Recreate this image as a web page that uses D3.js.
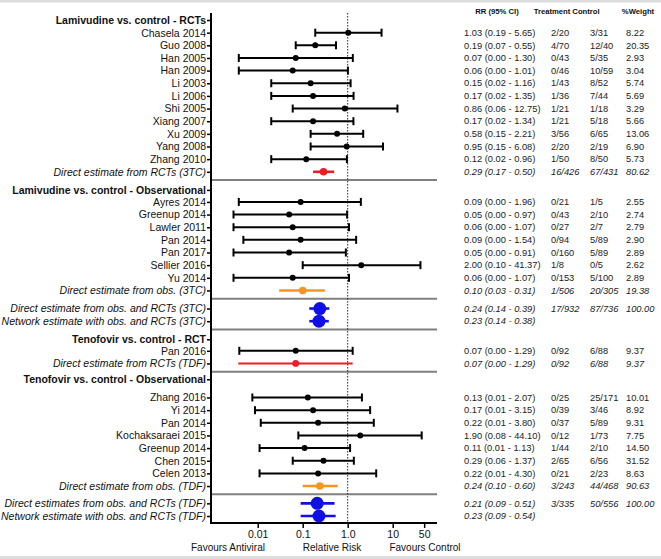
<!DOCTYPE html>
<html><head><meta charset="utf-8">
<script src="https://cdn.jsdelivr.net/npm/d3@7"></script>
<style>
html,body{margin:0;padding:0;background:#fff;}
svg{display:block;font-family:"Liberation Sans",Arial,sans-serif;}
</style></head>
<body><svg id="c" width="661" height="559"></svg>
<script>
// ---------- DATA ----------
const groupTitles = ["Lamivudine vs. control - RCTs","Lamivudine vs. control - Observational",null,"Tenofovir vs. control - RCT","Tenofovir vs. control - Observational",null];
const studyNames = [
 ["Chasela 2014","Guo 2008","Han 2005","Han 2009","Li 2003","Li 2006","Shi 2005","Xiang 2007","Xu 2009","Yang 2008","Zhang 2010","Direct estimate from RCTs (3TC)"],
 ["Ayres 2014","Greenup 2014","Lawler 2011","Pan 2014","Pan 2017","Sellier 2016","Yu 2014","Direct estimate from obs. (3TC)"],
 ["Direct estimate from obs. and RCTs (3TC)","Network estimate with obs. and RCTs (3TC)"],
 ["Pan 2016","Direct estimate from RCTs (TDF)"],
 ["Zhang 2016","Yi 2014","Pan 2014","Kochaksaraei 2015","Greenup 2014","Chen 2015","Celen 2013","Direct estimate from obs. (TDF)"],
 ["Direct estimates from obs. and RCTs (TDF)","Network estimate with obs. and RCTs (TDF)"]
];
// estimate type: s = study, r = pooled RCT, o = pooled observational, n = combined / network
const rowType = [
 ["s","s","s","s","s","s","s","s","s","s","s","r"],
 ["s","s","s","s","s","s","s","o"],
 ["n","n"],
 ["s","r"],
 ["s","s","s","s","s","s","s","o"],
 ["n","n"]
];
const rr = [
 [1.03,0.19,0.07,0.06,0.15,0.17,0.86,0.17,0.58,0.95,0.12,0.29],
 [0.09,0.05,0.06,0.09,0.05,2.00,0.06,0.10],
 [0.24,0.23],
 [0.07,0.07],
 [0.13,0.17,0.22,1.90,0.11,0.29,0.22,0.24],
 [0.21,0.23]
];
const ciLow = [
 [0.19,0.07,0.0038,0.0038,0.02,0.02,0.06,0.02,0.15,0.15,0.02,0.17],
 [0.0038,0.0029,0.0029,0.0048,0.0029,0.10,0.0029,0.03],
 [0.14,0.14],
 [0.0039,0.0037],
 [0.0076,0.0087,0.0117,0.08,0.011,0.06,0.011,0.10],
 [0.09,0.09]
];
const ciHigh = [
 [5.65,0.55,1.30,1.01,1.16,1.35,12.75,1.34,2.21,6.08,0.96,0.50],
 [1.96,0.97,1.07,1.54,0.91,41.37,1.07,0.31],
 [0.39,0.38],
 [1.29,1.29],
 [2.07,3.15,3.80,44.10,1.13,1.37,4.30,0.60],
 [0.51,0.54]
];
const treatment = [
 ["2/20","4/70","0/43","0/46","1/43","1/36","1/21","1/21","3/56","2/20","1/50","16/426"],
 ["0/21","0/43","0/27","0/94","0/160","1/8","0/153","1/506"],
 ["17/932",""],
 ["0/92","0/92"],
 ["0/25","0/39","0/37","0/12","1/44","2/65","0/21","3/243"],
 ["3/335",""]
];
const control = [
 ["3/31","12/40","5/35","10/59","8/52","7/44","1/18","5/18","6/65","2/19","8/50","67/431"],
 ["1/5","2/10","2/7","5/89","5/89","0/5","5/100","20/305"],
 ["87/736",""],
 ["6/88","6/88"],
 ["25/171","3/46","5/89","1/73","2/10","6/56","2/23","44/468"],
 ["50/556",""]
];
const weight = [
 [8.22,20.35,2.93,3.04,5.74,5.69,3.29,5.66,13.06,6.90,5.73,80.62],
 [2.55,2.74,2.79,2.90,2.89,2.62,2.89,19.38],
 [100.00,null],
 [9.37,9.37],
 [10.01,8.92,9.31,7.75,14.50,31.52,8.63,90.63],
 [100.00,null]
];
const colHeaders = ["RR (95% CI)","Treatment","Control","%Weight"];
const xTicks = [0.01,0.1,1,10,50];
const xTickLabels = ["0.01","0.1","1.0","10","50"];
const axisTexts = ["Favours Antiviral","Relative Risk","Favours Control"];

// ---------- LAYOUT ----------
const W = 661, H = 559;
const plotL = 211, plotR = 437, unitPx = 12.65, topY = 20;
// [gap after separator, gap header->first row] in row units
const groupGaps = [[0,1],[0.78,0.95],[0.78,0],[0.78,0.91],[0.6,1.44],[0.72,0]];
const sepBefore = 0.65;

const svg = d3.select("#c");
svg.append("rect").attr("width",W).attr("height",H).attr("fill","#fff");
svg.append("rect").attr("x",0).attr("y",0).attr("width",W).attr("height",2.5).attr("fill","#dcdcdc");
svg.append("rect").attr("x",0).attr("y",556).attr("width",W).attr("height",3).attr("fill","#dcdcdc");

// compute slot units
const rows = []; const seps = [];
let u = 0;
groupTitles.forEach((title, g) => {
  if (g > 0) { u += sepBefore; seps.push(u); u += groupGaps[g][0]; }
  if (title) { rows.push({id:"h"+g, label:title, kind:"h", u:u}); u += groupGaps[g][1]; }
  studyNames[g].forEach((name, i) => {
    if (i > 0) u += 1;
    rows.push({id:"r"+g+"_"+i, label:name, kind:rowType[g][i], u:u,
      rr:rr[g][i], lo:ciLow[g][i], hi:ciHigh[g][i],
      t:treatment[g][i], c:control[g][i], w:weight[g][i]});
  });
});
const uMin = -0.55, uMax = u + 0.55;
const yU = d3.scaleLinear().domain([0,1]).range([topY, topY+unitPx]);
const yRow = d3.scaleOrdinal().domain(rows.map(r=>r.id)).range(rows.map(r=>yU(r.u)));
const x = d3.scaleLog().domain([0.001,100]).range([212.7,437.7]);
const y0 = yU(uMin), y1 = yU(uMax);

// separators
svg.append("g").selectAll("line").data(seps).join("line")
  .attr("x1",plotL).attr("x2",plotR).attr("y1",d=>yU(d)).attr("y2",d=>yU(d))
  .attr("stroke","#808080").attr("stroke-width",2);

// reference line at 1
svg.append("line").attr("x1",x(1)).attr("x2",x(1)).attr("y1",y0).attr("y2",y1)
  .attr("stroke","#222").attr("stroke-width",1).attr("stroke-dasharray","1.5,1.5");

// Y axis
const yAxis = d3.axisLeft(yRow).tickSize(4).tickSizeOuter(0).tickPadding(1).tickFormat(id => rows.find(r=>r.id===id).label);
const gy = svg.append("g").attr("transform",`translate(${plotL},0)`).call(yAxis);
gy.select(".domain").remove();
gy.selectAll(".tick line").attr("stroke","#000").attr("stroke-width",1.5);
gy.selectAll(".tick text").attr("fill","#111").attr("font-size","10.5px")
  .attr("font-family","'Liberation Sans',Arial,sans-serif")
  .attr("font-weight",id=>rows.find(r=>r.id===id).kind==="h"?"bold":"normal")
  .attr("font-style",id=>{const k=rows.find(r=>r.id===id).kind;return (k==="r"||k==="o"||k==="n")?"italic":"normal";});
svg.append("line").attr("x1",plotL).attr("x2",plotL).attr("y1",y0).attr("y2",y1+1)
  .attr("stroke","#000").attr("stroke-width",2);

// X axis
const xAxis = d3.axisBottom(x).tickValues(xTicks).tickSize(5).tickSizeOuter(0)
  .tickFormat((d,i)=>xTickLabels[i]).tickPadding(3);
const gx = svg.append("g").attr("transform",`translate(0,${y1})`).call(xAxis);
gx.select(".domain").remove();
gx.selectAll(".tick line").attr("stroke","#000").attr("stroke-width",1.5);
gx.selectAll(".tick text").attr("fill","#111").attr("font-size","10.5px")
  .attr("font-family","'Liberation Sans',Arial,sans-serif");
svg.append("line").attr("x1",plotL).attr("x2",plotR).attr("y1",y1).attr("y2",y1)
  .attr("stroke","#000").attr("stroke-width",2);

const tx = svg.append("g").attr("font-size","10px").attr("fill","#111");
tx.append("text").attr("x",191).attr("y",551).text(axisTexts[0]);
tx.append("text").attr("x",332).attr("y",551).attr("text-anchor","middle").text(axisTexts[1]);
tx.append("text").attr("x",425).attr("y",551).attr("text-anchor","middle").text(axisTexts[2]);

// marks
const style = {
  s:{c:"#000",lw:2,r:3,cap:4},
  r:{c:"#ee1c25",lw:2.6,r:3.8,cap:0},
  o:{c:"#f7941d",lw:2.6,r:3.8,cap:0},
  n:{c:"#0f0fe6",lw:2.6,r:6.5,cap:0}
};
const data = rows.filter(r=>r.kind!=="h");
const mg = svg.append("g");
data.forEach(r => {
  const st = style[r.kind]; const yy = yRow(r.id);
  const g = mg.append("g");
  const lw = (r.kind==="r" && r.lo < 0.01) ? 2 : st.lw;
  const rad = (r.kind==="r" && r.lo < 0.01) ? 3.4 : st.r;
  g.append("line").attr("x1",x(r.lo)).attr("x2",x(r.hi)).attr("y1",yy).attr("y2",yy)
    .attr("stroke",st.c).attr("stroke-width",lw);
  if (st.cap) {
    [r.lo,r.hi].forEach(v => g.append("line").attr("x1",x(v)).attr("x2",x(v))
      .attr("y1",yy-st.cap).attr("y2",yy+st.cap).attr("stroke",st.c).attr("stroke-width",2));
  }
  g.append("circle").attr("cx",x(r.rr)).attr("cy",yy).attr("r",rad).attr("fill",st.c);
});

// right columns
const f2 = d3.format(".2f");
const colX = [464,551,590,626];
const hdrX = [497,552,586,638];
const hg = svg.append("g").attr("font-size","7.7px").attr("font-weight","bold").attr("fill","#111");
colHeaders.forEach((h,i)=>hg.append("text").attr("x",hdrX[i]).attr("y",14).attr("text-anchor","middle").text(h));
const dg = svg.append("g").attr("font-size","9.3px").attr("fill","#222");
data.forEach(r => {
  const yy = yRow(r.id) + 3.2;
  const it = r.kind==="s" ? "normal" : "italic";
  const vals = [`${f2(r.rr)} (${f2(r.lo)} - ${f2(r.hi)})`, r.t, r.c, r.w==null?"":f2(r.w)];
  vals.forEach((v,i)=>{ if (v) dg.append("text").attr("x",colX[i]).attr("y",yy).attr("font-style",it).text(v); });
});
</script></body></html>
